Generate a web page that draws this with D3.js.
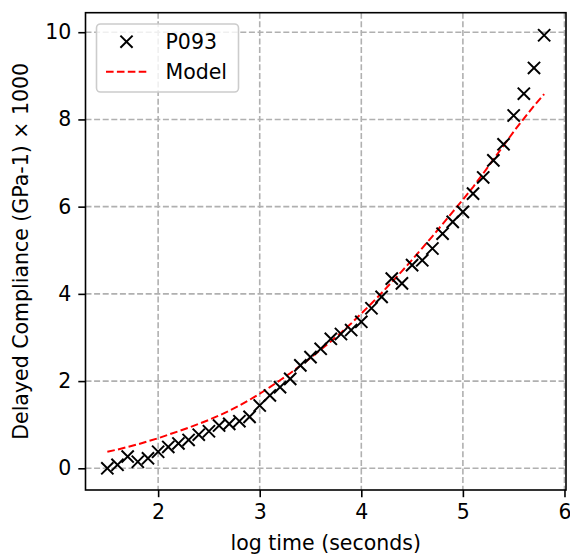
<!DOCTYPE html>
<html>
<head>
<meta charset="utf-8">
<script src="https://cdn.jsdelivr.net/npm/d3@7"></script>
<style>
  html, body { margin: 0; padding: 0; background: #fff; }
  svg text { font-family: "DejaVu Sans", sans-serif; fill: #000; }
</style>
</head>
<body>
<svg id="chart" width="570" height="554"></svg>
<script>
const logTime = [1.5,1.6,1.7,1.8,1.9,2.0,2.1,2.2,2.3,2.4,2.5,2.6,2.7,2.8,2.9,3.0,3.1,3.2,3.3,3.4,3.5,3.6,3.7,3.8,3.9,4.0,4.1,4.2,4.3,4.4,4.5,4.6,4.7,4.8,4.9,5.0,5.1,5.2,5.3,5.4,5.5,5.6,5.7,5.8];
const compliance = [0.00,0.08,0.27,0.15,0.23,0.38,0.49,0.57,0.65,0.77,0.85,0.98,1.02,1.08,1.18,1.44,1.67,1.86,2.05,2.36,2.55,2.74,2.97,3.08,3.17,3.36,3.67,3.93,4.35,4.24,4.66,4.77,5.04,5.38,5.65,5.88,6.30,6.67,7.06,7.43,8.09,8.59,9.18,9.93];
const modelValues = [0.38,0.43,0.49,0.55,0.62,0.69,0.77,0.85,0.93,1.02,1.11,1.21,1.32,1.44,1.57,1.71,1.86,2.02,2.18,2.35,2.53,2.72,2.91,3.11,3.32,3.55,3.78,4.02,4.27,4.52,4.78,5.05,5.32,5.60,5.88,6.16,6.45,6.76,7.08,7.40,7.72,8.02,8.31,8.58];
const xTicks = [2,3,4,5,6];
const yTicks = [0,2,4,6,8,10];
const seriesNames = ["P093","Model"];
const xLabel = "log time (seconds)";
const yLabel = "Delayed Compliance (GPa-1) \u00d7 1000";

const svg = d3.select("#chart");
const L = 85.5, R = 566, T = 12.7, B = 490;
const x = d3.scaleLinear().domain([1.285, 6.015]).range([L, R]);
const y = d3.scaleLinear().domain([-0.4975, 10.4475]).range([B, T]);
const FS = 20.5;

// grid
const grid = svg.append("g");
grid.selectAll("line.gx").data(xTicks).join("line")
  .attr("x1", d => x(d)).attr("x2", d => x(d)).attr("y1", T).attr("y2", B)
  .attr("stroke", "#b0b0b0").attr("stroke-width", 1.6).attr("stroke-dasharray", "6,2.6");
grid.selectAll("line.gy").data(yTicks).join("line")
  .attr("y1", d => y(d)).attr("y2", d => y(d)).attr("x1", L).attr("x2", R)
  .attr("stroke", "#b0b0b0").attr("stroke-width", 1.6).attr("stroke-dasharray", "6,2.6");

// model line
const pts = logTime.map((t, i) => [t, modelValues[i]]);
svg.append("path").datum(pts)
  .attr("d", d3.line().x(d => x(d[0])).y(d => y(d[1])))
  .attr("fill", "none").attr("stroke", "#ff0000").attr("stroke-width", 2)
  .attr("stroke-dasharray", "7.6,3.3");

// markers
const ms = 6.1;
const mk = svg.append("g");
logTime.forEach((t, i) => {
  const cx = x(t), cy = y(compliance[i]);
  mk.append("path")
    .attr("d", `M${cx-ms},${cy-ms}L${cx+ms},${cy+ms}M${cx-ms},${cy+ms}L${cx+ms},${cy-ms}`)
    .attr("stroke", "#000").attr("stroke-width", 2).attr("fill", "none");
});

// axes
const xAxis = d3.axisBottom(x).tickValues(xTicks).tickFormat(d3.format("d")).tickSize(7.2).tickPadding(7);
const yAxis = d3.axisLeft(y).tickValues(yTicks).tickFormat(d3.format("d")).tickSize(7.2).tickPadding(7);
const gx = svg.append("g").attr("transform", `translate(0,${B})`).call(xAxis);
const gy = svg.append("g").attr("transform", `translate(${L},0)`).call(yAxis);
[gx, gy].forEach(g => {
  g.select(".domain").remove();
  g.selectAll(".tick line").attr("stroke", "#000").attr("stroke-width", 1.6);
  g.selectAll(".tick text").attr("font-size", FS).attr("font-family", "DejaVu Sans").attr("fill", "#000");
});

// frame
svg.append("rect").attr("x", L).attr("y", T).attr("width", R - L).attr("height", B - T)
  .attr("fill", "none").attr("stroke", "#000").attr("stroke-width", 1.6);

// labels
svg.append("text").attr("x", (L + R) / 2).attr("y", 550).attr("text-anchor", "middle")
  .attr("font-size", FS).text(xLabel);
svg.append("text").attr("transform", `translate(28,${(T + B) / 2}) rotate(-90)`)
  .attr("text-anchor", "middle").attr("font-size", FS).text(yLabel);

// legend
const lg = svg.append("g");
lg.append("rect").attr("x", 96.5).attr("y", 24).attr("width", 142).attr("height", 68)
  .attr("rx", 4).attr("fill", "#fff").attr("fill-opacity", 0.8)
  .attr("stroke", "#cccccc").attr("stroke-width", 1.6);
const lx = 126.5, ly1 = 41.7, ly2 = 71.7;
lg.append("path")
  .attr("d", `M${lx-ms},${ly1-ms}L${lx+ms},${ly1+ms}M${lx-ms},${ly1+ms}L${lx+ms},${ly1-ms}`)
  .attr("stroke", "#000").attr("stroke-width", 2);
lg.append("line").attr("x1", 106).attr("x2", 147).attr("y1", ly2).attr("y2", ly2)
  .attr("stroke", "#ff0000").attr("stroke-width", 2).attr("stroke-dasharray", "7.6,3.3");
lg.append("text").attr("x", 165.5).attr("y", ly1 + 7.5).attr("font-size", FS).text(seriesNames[0]);
lg.append("text").attr("x", 165.5).attr("y", ly2 + 7.5).attr("font-size", FS).text(seriesNames[1]);
</script>
</body>
</html>
